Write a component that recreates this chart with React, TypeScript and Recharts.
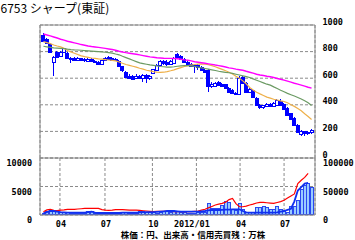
import React from 'react'
import { ComposedChart, Bar, Line, XAxis, YAxis, CartesianGrid, ReferenceLine } from 'recharts'

// weekly candles, week 0 = 2011/02/21 ... week 78 = 2012/08/20 (yen)
const opens = [
  925, 893, 857, 725, 797, 770, 800, 790, 752, 750,
  735, 750, 742, 730, 745, 730, 722, 708, 735, 758,
  752, 745, 730, 690, 650, 620, 615, 600, 618, 600,
  625, 598, 640, 665, 698, 730, 725, 705, 718, 782,
  770, 745, 722, 705, 688, 698, 682, 665, 660, 540,
  545, 570, 560, 555, 530, 515, 492, 478, 610, 565,
  498, 515, 450, 398, 382, 388, 405, 392, 400, 430,
  405, 376, 338, 300, 250, 182, 200, 185, 195,
]
const highs = [
  940, 900, 862, 770, 805, 805, 830, 800, 760, 760,
  758, 755, 752, 752, 750, 740, 728, 740, 762, 765,
  760, 752, 738, 695, 655, 628, 625, 628, 625, 632,
  635, 622, 672, 705, 738, 740, 735, 740, 760, 792,
  775, 752, 728, 712, 710, 705, 688, 670, 668, 568,
  570, 578, 565, 560, 535, 520, 498, 620, 618, 570,
  530, 520, 455, 405, 402, 412, 412, 420, 440, 445,
  410, 380, 342, 305, 255, 210, 205, 200, 218,
]
const lows = [
  875, 860, 795, 617, 750, 765, 790, 745, 714, 728,
  728, 730, 725, 722, 720, 712, 700, 700, 730, 740,
  735, 728, 685, 650, 605, 598, 585, 592, 598, 575,
  565, 590, 632, 660, 690, 700, 695, 698, 712, 752,
  740, 712, 698, 682, 640, 665, 655, 638, 500, 530,
  538, 545, 535, 525, 495, 480, 470, 470, 555, 488,
  490, 450, 388, 370, 372, 380, 385, 388, 398, 395,
  360, 320, 285, 245, 190, 165, 168, 172, 180,
]
const closes = [
  880, 868, 800, 762, 760, 800, 825, 752, 745, 735,
  750, 738, 735, 745, 728, 720, 710, 735, 755, 745,
  740, 735, 690, 658, 612, 605, 595, 620, 605, 625,
  600, 615, 668, 698, 730, 712, 705, 730, 755, 760,
  745, 720, 705, 690, 700, 682, 665, 645, 540, 560,
  562, 548, 540, 530, 500, 490, 478, 605, 565, 495,
  522, 455, 395, 380, 395, 405, 392, 410, 435, 400,
  365, 325, 290, 250, 198, 205, 185, 195, 212,
]

// moving averages: 13, 26, 52 weeks
const ma13 = [
  875, 868, 860, 850, 842, 835, 825, 808, 798, 788,
  778, 768, 762, 757, 752, 749, 746, 744, 740, 737,
  734, 730, 722, 712, 703, 697, 690, 683, 675, 668,
  660, 655, 650, 646, 644, 645, 650, 656, 663, 672,
  680, 688, 695, 699, 703, 706, 707, 705, 702, 695,
  686, 676, 666, 656, 645, 632, 615, 600, 580, 558,
  530, 512, 495, 482, 470, 458, 450, 442, 436, 430,
  425, 415, 400, 388, 372, 355, 333, 312, 290,
]
const ma26 = [
  840, 836, 832, 828, 826, 824, 822, 818, 815, 813,
  812, 810, 808, 806, 804, 802, 800, 798, 795, 792,
  789, 782, 776, 765, 755, 745, 735, 725, 715, 710,
  705, 700, 697, 692, 688, 686, 684, 684, 686, 690,
  692, 694, 695, 693, 688, 683, 678, 673, 668, 663,
  658, 652, 648, 644, 641, 636, 630, 624, 618, 612,
  605, 595, 585, 575, 565, 555, 548, 535, 523, 510,
  498, 486, 476, 466, 455, 444, 430, 415, 395,
]
const ma52 = [
  932, 925, 918, 910, 902, 893, 886, 878, 872, 866,
  860, 853, 848, 842, 838, 835, 832, 828, 824, 820,
  816, 810, 803, 797, 792, 788, 784, 780, 775, 770,
  765, 760, 757, 754, 752, 750, 749, 749, 748, 746,
  742, 738, 735, 730, 724, 720, 716, 712, 708, 704,
  699, 695, 690, 684, 678, 674, 668, 664, 660, 652,
  645, 638, 630, 624, 620, 615, 611, 605, 598, 592,
  586, 578, 570, 562, 555, 548, 540, 532, 525,
]

// 出来高 (万株)
const volume = [
  4000, 7500, 8500, 9000, 7000, 6000, 5800, 5000, 4000, 4000,
  4000, 4000, 4000, 7500, 7000, 3500, 3000, 3200, 3000, 3000,
  3000, 3000, 3500, 4500, 5000, 4000, 3500, 3000, 7000, 6500,
  4500, 4500, 4500, 4000, 5000, 7000, 7500, 6000, 7500, 6500,
  5000, 4500, 4000, 4000, 4000, 4500, 5000, 6000, 20500, 12000,
  12000, 12000, 17500, 24000, 23000, 10000, 9000, 21000, 10000, 6000,
  6000, 6000, 14000, 14000, 16000, 14000, 10000, 10000, 16000, 10000,
  8000, 6000, 16000, 16000, 26000, 46000, 52000, 55500, 48500,
]
// 信用買残 / 信用売残 (万株)
const marginBuy = [
  580, 900, 1000, 800, 780, 850, 900, 1000, 1000, 1000,
  1050, 1100, 1150, 1150, 1170, 1170, 1150, 950, 850, 800,
  850, 950, 950, 950, 900, 850, 850, 850, 800, 750,
  700, 650, 600, 650, 650, 650, 700, 650, 600, 600,
  580, 580, 580, 600, 650, 700, 850, 1000, 1250, 1500,
  1750, 1900, 2050, 2250, 2700, 2900, 2000, 1450, 1450, 1550,
  1750, 1900, 2100, 2200, 2200, 2150, 2100, 2050, 2200, 2350,
  2600, 3000, 3350, 3700, 5500, 6100, 6600, 7300, null,
]
const marginSell = [
  300, 500, 700, 700, 600, 500, 450, 400, 400, 400,
  400, 400, 400, 500, 600, 400, 350, 350, 350, 350,
  350, 350, 350, 400, 400, 400, 400, 400, 450, 500,
  500, 500, 500, 550, 600, 650, 700, 700, 700, 650,
  600, 580, 580, 580, 580, 600, 650, 700, 800, 875,
  875, 875, 900, 950, 950, 1000, 1000, 1000, 700, 450,
  400, 400, 400, 400, 400, 400, 400, 400, 450, 580,
  700, 900, 1100, 2400, 4300, 4900, 5500, 5650, null,
]

const monthTicks = [4.8, 17.9, 31.7, 44.5, 57.2, 70]
const monthLabels = ['04', '07', '10', '2012/01', '04', '07']
const priceTicks = [0, 200, 400, 600, 800, 1000]
const marginTicks = [0, 5000, 10000]
const volumeTicks = [0, 50000, 100000]

const rows = opens.map((open, i) => ({
  i,
  open,
  high: highs[i],
  low: lows[i],
  close: closes[i],
  ma13: ma13[i],
  ma26: ma26[i],
  ma52: ma52[i],
  vol: volume[i],
  buy: marginBuy[i],
  sell: marginSell[i],
}))

const BLUE = '#0000ff'
const GRID = '#8a8a8a'
const tickFont = { fontFamily: '"DejaVu Sans Mono", monospace', fontWeight: 'bold' as const, fontSize: 8.5, fill: '#000' }

// snap to the pixel grid so boxes come out crisp like the original
const snap = (v: number) => Math.round(v) + 0.5

const Candle = (props: any) => {
  const { x, y, width, height, payload } = props
  const { open, close, high, low } = payload
  const top = Math.min(y, y + height)
  const span = Math.abs(height)
  const k = high > low ? span / (high - low) : 0
  const py = (v: number) => top + (high - v) * k
  const left = snap(x - 0.3)
  const right = Math.max(left + 3, snap(x + width + 0.3) - 1)
  const cx = snap(x + width / 2 - 0.5)
  const bTop = snap(py(Math.max(open, close)))
  const bBot = Math.max(bTop + 1, snap(py(Math.min(open, close))))
  return (
    <g shapeRendering="crispEdges">
      <line x1={cx} x2={cx} y1={Math.round(top)} y2={Math.round(top + span)} stroke={BLUE} strokeWidth={1} />
      <rect x={left} y={bTop} width={right - left} height={bBot - bTop}
        fill={close >= open ? '#fff' : BLUE} stroke={BLUE} strokeWidth={1} />
    </g>
  )
}

const VolumeBar = (props: any) => {
  const { x, y, width, height } = props
  const left = snap(x)
  const right = Math.max(left + 1, snap(x + width))
  const top = snap(y)
  const bottom = snap(y + height) - 1
  if (bottom <= top) return null
  return (
    <rect x={left} y={top} width={right - left} height={bottom - top}
      fill="#99ccff" stroke="#2a48f0" strokeWidth={1} shapeRendering="crispEdges" />
  )
}

const PriceTick = ({ x, y, payload }: any) => (
  <text x={x + 7.5} y={y - 0.5} textAnchor="start" {...tickFont}>{payload.value}</text>
)
const LeftTick = ({ x, y, payload }: any) => (
  <text x={x - 8} y={y + 8} textAnchor="end" {...tickFont}>{payload.value}</text>
)
const RightTick = ({ x, y, payload }: any) => (
  <text x={x + 8} y={y + 8} textAnchor="start" {...tickFont}>{payload.value}</text>
)
const MonthTick = ({ x, y, index }: any) => {
  const label = monthLabels[index] ?? ''
  return (
    <text x={x + (label.length > 2 ? -4.5 : 1)} y={y + 12} textAnchor="middle" {...tickFont}>{label}</text>
  )
}

export default function App() {
  return (
    <div style={{ position: 'absolute', left: 0, top: 0, width: 355, height: 240, background: '#fff' }}>
      <div style={{ position: 'absolute', left: 0, top: 0 }}>
        <ComposedChart width={355} height={162} data={rows} barCategoryGap={0}
          margin={{ top: 25, right: 0, bottom: 4, left: 40 }}>
          <CartesianGrid yAxisId="p" stroke={GRID} strokeDasharray="3 2" />
          <XAxis type="number" dataKey="i" domain={[-1, 79]} ticks={monthTicks} interval={0}
            height={0} axisLine={false} tickLine={false} tick={false} />
          <YAxis yAxisId="p" orientation="right" width={40} domain={[0, 1000]} ticks={priceTicks}
            interval={0} axisLine={{ stroke: GRID }} tickLine={false} tickSize={0} tickMargin={0}
            tick={<PriceTick />} />
          <ReferenceLine yAxisId="p" y={1000} stroke={GRID} />
          <ReferenceLine yAxisId="p" x={-1} stroke={GRID} />
          <Bar yAxisId="p" dataKey={(d: any) => [d.low, d.high]} shape={Candle} isAnimationActive={false} />
          <Line yAxisId="p" dataKey="ma13" stroke="#eeb04a" strokeWidth={1.2} dot={false} isAnimationActive={false} />
          <Line yAxisId="p" dataKey="ma26" stroke="#6b9a63" strokeWidth={1.2} dot={false} isAnimationActive={false} />
          <Line yAxisId="p" dataKey="ma52" stroke="#ff00ff" strokeWidth={1.4} dot={false} isAnimationActive={false} />
        </ComposedChart>
      </div>
      <div style={{ position: 'absolute', left: 0, top: 150 }}>
        <ComposedChart width={355} height={90} data={rows} barCategoryGap={0}
          margin={{ top: 8, right: 0, bottom: 0, left: 0 }}>
          <CartesianGrid yAxisId="m" stroke={GRID} strokeDasharray="3 2" />
          <XAxis type="number" dataKey="i" domain={[-1, 79]} ticks={monthTicks} interval={0}
            height={25} axisLine={{ stroke: GRID }} tickLine={false} tickSize={0} tickMargin={0}
            tick={<MonthTick />} />
          <YAxis yAxisId="m" orientation="left" width={40} domain={[0, 10000]} ticks={marginTicks}
            interval={0} axisLine={{ stroke: GRID }} tickLine={false} tickSize={0} tickMargin={0}
            tick={<LeftTick />} />
          <YAxis yAxisId="v" orientation="right" width={40} domain={[0, 100000]} ticks={volumeTicks}
            interval={0} axisLine={{ stroke: GRID }} tickLine={false} tickSize={0} tickMargin={0}
            tick={<RightTick />} />
          <ReferenceLine yAxisId="m" y={10000} stroke={GRID} />
          <Bar yAxisId="v" dataKey="vol" shape={VolumeBar} isAnimationActive={false} />
          <Line yAxisId="m" dataKey="buy" stroke="#ff0000" strokeWidth={1.2} dot={false} isAnimationActive={false} />
          <Line yAxisId="m" dataKey="sell" stroke="#1030f0" strokeWidth={1.8} dot={false} isAnimationActive={false} />
        </ComposedChart>
      </div>
      <svg width={355} height={240} style={{ position: 'absolute', left: 0, top: 0, pointerEvents: 'none' }}>
        <text x={0.5} y={12.5} fontFamily='"Noto Sans CJK JP", sans-serif' fontSize={12} fill="#000">
          6753 シャープ(東証)
        </text>
        <text x={193} y={238} textAnchor="middle" fontFamily='"Noto Sans CJK JP", sans-serif'
          fontWeight="bold" fontSize={8.5} fill="#000">
          株価：円、出来高・信用売買残：万株
        </text>
      </svg>
    </div>
  )
}
